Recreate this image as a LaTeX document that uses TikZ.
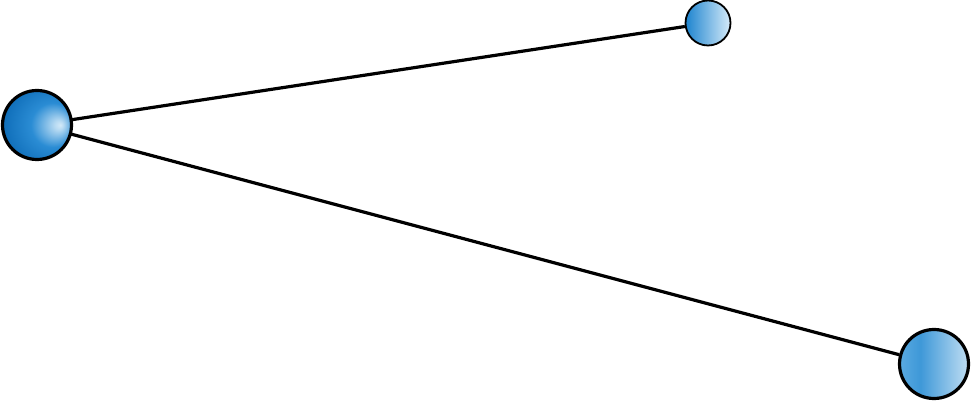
\documentclass[tikz,border=0pt]{standalone}
\usetikzlibrary{shadings,backgrounds}
\definecolor{dkb}{HTML}{0A68B4}
\definecolor{mdb}{HTML}{2A8CD4}
\definecolor{ltb}{HTML}{D2E9F8}
\definecolor{brA}{HTML}{5AAAE0}
\definecolor{brB}{HTML}{3E98D8}
\definecolor{brC}{HTML}{C0DEF3}
\definecolor{trA}{HTML}{1D84CF}
\definecolor{trB}{HTML}{D6EBF9}
\pgfdeclareradialshading{leftball}{\pgfpoint{17bp}{0bp}}{color(0bp)=(ltb); color(3bp)=(ltb!85!mdb); color(16bp)=(mdb); color(34bp)=(dkb); color(50bp)=(dkb)}
\pgfdeclarehorizontalshading{brball}{100bp}{color(0bp)=(brA); color(25bp)=(brA); color(40bp)=(brB); color(75bp)=(brC); color(100bp)=(brC)}
\pgfdeclarehorizontalshading{trball}{100bp}{color(0bp)=(trA); color(25bp)=(trA); color(75bp)=(trB); color(100bp)=(trB)}
\tikzset{
  ball/.style={circle, draw=black, inner sep=0pt},
  link/.style={draw=black, line width=3.2pt}
}
\begin{document}
\begin{tikzpicture}[x=1pt,y=1pt]
\useasboundingbox (0,0) rectangle (971,404);
\node[ball, line width=3.2pt, minimum size=69pt, shading=leftball] (L) at (37,279) {};
\node[ball, line width=1.8pt, minimum size=45pt, shading=trball] (T) at (708,381) {};
\node[ball, line width=3.2pt, minimum size=69pt, shading=brball] (B) at (934,40) {};
\begin{pgfonlayer}{background}
\draw[link] (L.center) -- (T);
\draw[link] (L.center) -- (B);
\end{pgfonlayer}
\end{tikzpicture}
\end{document}
